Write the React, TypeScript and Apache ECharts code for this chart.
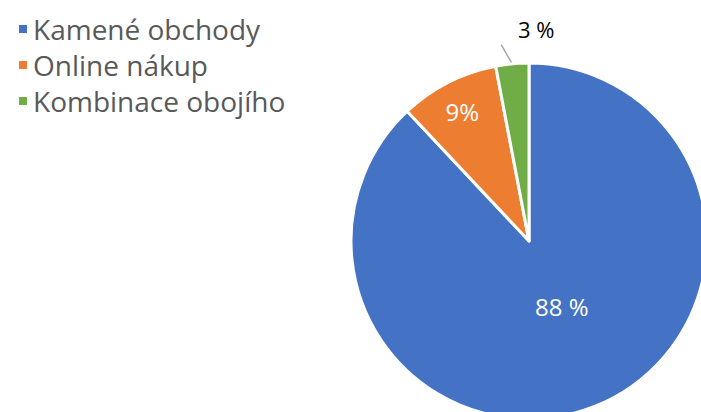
import React, { useEffect, useRef } from "react";
import * as echarts from "echarts";

const categories = ["Kamené obchody", "Online nákup", "Kombinace obojího"];
const values = [88, 9, 3];
const labelTexts = ["88 %", "9%", "3 %"];
const colors = ["#4472C4", "#ED7D31", "#70AD47"];

export default function App() {
  const ref = useRef<HTMLDivElement>(null);
  useEffect(() => {
    document.body.style.margin = "0";
    const chart = echarts.init(ref.current!, undefined, { renderer: "svg" });
    const font = "'Open Sans', sans-serif";
    chart.setOption({
      animation: false,
      legend: {
        orient: "vertical",
        left: 12,
        top: 10,
        icon: "rect",
        itemWidth: 10,
        itemHeight: 10,
        itemGap: 8,
        textStyle: { fontFamily: font, fontSize: 28, color: "#595959" },
        data: categories,
      },
      series: [
        {
          type: "pie",
          center: [529, 241],
          radius: 178,
          startAngle: 90,
          clockwise: true,
          itemStyle: { borderColor: "#fff", borderWidth: 3 },
          labelLine: { show: true, lineStyle: { color: "#A6A6A6", width: 1.5 }, length: 20, length2: 0 },
          data: categories.map((name, i) => ({
            name,
            value: values[i],
            itemStyle: { color: colors[i] },
            label:
              i === 2
                ? { show: true, position: "outside", formatter: labelTexts[i], fontFamily: font, fontSize: 22, color: "#000" }
                : {
                    show: true,
                    position: "inside",
                    formatter: labelTexts[i],
                    fontFamily: font,
                    fontSize: 24,
                    color: "#fff",
                    offset: i === 0 ? [-1, -20] : [-25, -48],
                  },
            labelLine: { show: i === 2 },
          })),
          labelLayout: (params: any) => {
            if (params.dataIndex !== 2 || !params.labelLinePoints) return {};
            const s = params.labelLinePoints[0];
            const e = [s[0] - 11, s[1] - 19];
            return {
              x: s[0] + 24,
              y: s[1] - 35,
              align: "center",
              verticalAlign: "middle",
              labelLinePoints: [s, e, e],
            };
          },
        },
      ],
    });
    return () => chart.dispose();
  }, []);
  return <div ref={ref} style={{ width: 701, height: 412 }} />;
}
